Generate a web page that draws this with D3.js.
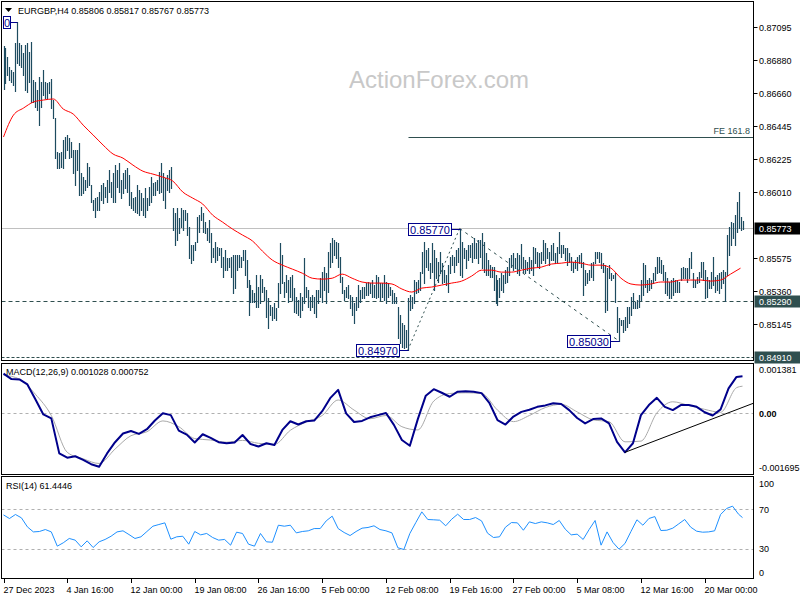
<!DOCTYPE html>
<html><head><meta charset="utf-8">
<script src="https://cdn.jsdelivr.net/npm/d3@7"></script>
<style>
body{margin:0;background:#fff}
svg{display:block}
text{font-family:"Liberation Sans",Arial,sans-serif;font-size:9px;fill:#000}
</style></head>
<body><svg id="c" width="800" height="600"></svg>
<script>
// ---------- DATA ----------
const title = "EURGBP,H4  0.85806 0.85817 0.85767 0.85773";
const highs = [
0.86971,0.86957,0.86898,0.86832,0.86812,0.86799,0.86990,0.87130,0.86990,0.86977,
0.86924,0.86977,0.86990,0.86931,0.86997,0.86747,0.86734,0.86681,0.86766,0.86734,
0.86812,0.86734,0.86727,0.86734,0.86753,0.86615,0.86496,0.86273,0.86266,0.86273,
0.86352,0.86372,0.86385,0.86365,0.86339,0.86286,0.86286,0.86286,0.86332,0.86134,
0.86108,0.86089,0.86200,0.86174,0.86056,0.85957,0.85970,0.85977,0.86010,0.86056,
0.86069,0.86043,0.86089,0.86154,0.86076,0.86134,0.86187,0.86154,0.86200,0.86089,
0.86134,0.86154,0.86167,0.86121,0.86010,0.85970,0.85977,0.86056,0.86023,0.86003,
0.85970,0.86036,0.85970,0.86043,0.86108,0.86069,0.86076,0.86089,0.86141,0.86200,
0.86134,0.86101,0.86121,0.86154,0.86174,0.85904,0.85871,0.85904,0.85838,0.85904,
0.85891,0.85891,0.85871,0.85779,0.85661,0.85661,0.85681,0.85845,0.85858,0.85911,
0.85871,0.85812,0.85772,0.85825,0.85740,0.85641,0.85681,0.85648,0.85641,0.85641,
0.85582,0.85628,0.85575,0.85575,0.85582,0.85595,0.85595,0.85595,0.85595,0.85582,
0.85628,0.85628,0.85562,0.85431,0.85398,0.85365,0.85345,0.85463,0.85385,0.85463,
0.85437,0.85385,0.85365,0.85312,0.85266,0.85253,0.85279,0.85246,0.85411,0.85674,
0.85595,0.85418,0.85463,0.85431,0.85450,0.85463,0.85378,0.85319,0.85299,0.85345,
0.85319,0.85575,0.85385,0.85365,0.85319,0.85332,0.85319,0.85365,0.85365,0.85443,
0.85483,0.85516,0.85476,0.85615,0.85674,0.85707,0.85694,0.85681,0.85674,0.85582,
0.85450,0.85365,0.85385,0.85398,0.85332,0.85319,0.85279,0.85319,0.85398,0.85365,
0.85385,0.85385,0.85411,0.85418,0.85411,0.85431,0.85398,0.85463,0.85450,0.85411,
0.85411,0.85463,0.85418,0.85411,0.85385,0.85365,0.85345,0.85319,0.85253,0.85200,
0.85147,0.85134,0.85102,0.85312,0.85332,0.85319,0.85431,0.85418,0.85431,0.85483,
0.85615,0.85681,0.85628,0.85641,0.85542,0.85674,0.85628,0.85575,0.85549,0.85615,
0.85542,0.85496,0.85463,0.85529,0.85582,0.85595,0.85582,0.85628,0.85641,0.85770,
0.85681,0.85641,0.85628,0.85661,0.85661,0.85674,0.85707,0.85674,0.85694,0.85694,
0.85740,0.85681,0.85608,0.85562,0.85529,0.85516,0.85516,0.85463,0.85431,0.85443,
0.85476,0.85463,0.85496,0.85516,0.85575,0.85595,0.85608,0.85575,0.85608,0.85595,
0.85668,0.85582,0.85562,0.85549,0.85582,0.85562,0.85648,0.85641,0.85615,0.85608,
0.85615,0.85694,0.85674,0.85641,0.85615,0.85661,0.85674,0.85608,0.85648,0.85747,
0.85661,0.85661,0.85641,0.85641,0.85608,0.85582,0.85549,0.85562,0.85582,0.85595,
0.85608,0.85549,0.85496,0.85476,0.85496,0.85542,0.85549,0.85615,0.85615,0.85615,
0.85608,0.85542,0.85529,0.85509,0.85529,0.85476,0.85463,0.85476,0.85253,0.85180,
0.85167,0.85167,0.85187,0.85253,0.85253,0.85319,0.85345,0.85286,0.85299,0.85332,
0.85431,0.85542,0.85529,0.85431,0.85443,0.85431,0.85476,0.85516,0.85582,0.85582,
0.85562,0.85529,0.85483,0.85443,0.85418,0.85431,0.85443,0.85431,0.85431,0.85418,
0.85509,0.85516,0.85509,0.85509,0.85575,0.85615,0.85476,0.85431,0.85450,0.85483,
0.85549,0.85549,0.85496,0.85450,0.85431,0.85483,0.85582,0.85450,0.85463,0.85476,
0.85483,0.85496,0.85483,0.85727,0.85779,0.85812,0.85806,0.85858,0.85944,0.86010,
0.85845,0.85817];
const lows = [
0.86688,0.86727,0.86779,0.86747,0.86734,0.86714,0.86674,0.86858,0.86845,0.86832,
0.86779,0.86681,0.86668,0.86734,0.86602,0.86602,0.86569,0.86549,0.86450,0.86569,
0.86648,0.86628,0.86628,0.86661,0.86562,0.86496,0.86233,0.86167,0.86167,0.86174,
0.86167,0.86233,0.86286,0.86233,0.86240,0.86134,0.86056,0.86154,0.85990,0.85990,
0.86003,0.86023,0.86043,0.86056,0.85944,0.85891,0.85845,0.85891,0.85891,0.85957,
0.85937,0.85977,0.85944,0.86010,0.85977,0.85944,0.85944,0.86043,0.86010,0.85970,
0.86003,0.86036,0.86010,0.85924,0.85904,0.85891,0.85878,0.85871,0.85858,0.85891,
0.85858,0.85845,0.85891,0.85924,0.85944,0.85990,0.85990,0.86023,0.86003,0.86010,
0.85957,0.85904,0.86023,0.86010,0.86036,0.85760,0.85661,0.85694,0.85740,0.85779,
0.85760,0.85825,0.85727,0.85575,0.85542,0.85562,0.85628,0.85681,0.85747,0.85825,
0.85747,0.85740,0.85694,0.85681,0.85549,0.85582,0.85549,0.85562,0.85595,0.85516,
0.85450,0.85496,0.85496,0.85516,0.85450,0.85345,0.85378,0.85496,0.85516,0.85516,
0.85562,0.85463,0.85385,0.85200,0.85286,0.85286,0.85286,0.85253,0.85253,0.85279,
0.85352,0.85299,0.85187,0.85114,0.85200,0.85167,0.85180,0.85167,0.85253,0.85345,
0.85411,0.85319,0.85352,0.85286,0.85319,0.85299,0.85220,0.85213,0.85200,0.85187,
0.85233,0.85279,0.85319,0.85253,0.85233,0.85253,0.85213,0.85187,0.85279,0.85319,
0.85286,0.85365,0.85279,0.85352,0.85516,0.85549,0.85595,0.85575,0.85516,0.85418,
0.85345,0.85299,0.85319,0.85312,0.85246,0.85200,0.85147,0.85233,0.85253,0.85286,
0.85312,0.85312,0.85332,0.85332,0.85345,0.85319,0.85319,0.85312,0.85319,0.85299,
0.85319,0.85299,0.85279,0.85319,0.85332,0.85279,0.85279,0.85279,0.85049,0.85016,
0.84990,0.84983,0.84990,0.84970,0.85233,0.85246,0.85279,0.85345,0.85352,0.85365,
0.85476,0.85411,0.85516,0.85496,0.85443,0.85483,0.85365,0.85443,0.85418,0.85476,
0.85411,0.85418,0.85398,0.85352,0.85476,0.85529,0.85483,0.85529,0.85549,0.85463,
0.85450,0.85575,0.85509,0.85562,0.85582,0.85549,0.85575,0.85575,0.85542,0.85582,
0.85509,0.85483,0.85463,0.85463,0.85450,0.85450,0.85365,0.85279,0.85266,0.85319,
0.85365,0.85352,0.85411,0.85418,0.85463,0.85516,0.85496,0.85509,0.85476,0.85463,
0.85509,0.85483,0.85476,0.85496,0.85476,0.85496,0.85463,0.85542,0.85516,0.85509,
0.85542,0.85562,0.85542,0.85575,0.85529,0.85562,0.85562,0.85542,0.85549,0.85608,
0.85582,0.85608,0.85562,0.85529,0.85549,0.85496,0.85483,0.85509,0.85496,0.85542,
0.85516,0.85332,0.85398,0.85411,0.85431,0.85450,0.85431,0.85542,0.85575,0.85549,
0.85509,0.85483,0.85220,0.85233,0.85443,0.85431,0.85443,0.85286,0.85089,0.85030,
0.85134,0.85089,0.85102,0.85121,0.85147,0.85200,0.85246,0.85246,0.85246,0.85253,
0.85299,0.85332,0.85385,0.85352,0.85365,0.85378,0.85411,0.85431,0.85476,0.85483,
0.85476,0.85431,0.85345,0.85332,0.85312,0.85312,0.85332,0.85352,0.85352,0.85352,
0.85431,0.85443,0.85443,0.85418,0.85443,0.85509,0.85385,0.85385,0.85411,0.85418,
0.85450,0.85431,0.85312,0.85319,0.85378,0.85378,0.85398,0.85352,0.85365,0.85345,
0.85378,0.85411,0.85290,0.85463,0.85595,0.85661,0.85707,0.85661,0.85747,0.85772,
0.85760,0.85767];
// moving average, one reading every 5 bars
const maStep = 5;
const maValues = [
0.86372,0.86516,0.86562,0.86602,0.86615,0.86622,0.86556,0.86523,0.86450,0.86385,
0.86319,0.86260,0.86233,0.86187,0.86147,0.86128,0.86108,0.86082,0.86010,0.85970,
0.85931,0.85858,0.85812,0.85766,0.85727,0.85688,0.85621,0.85562,0.85529,0.85503,
0.85476,0.85443,0.85437,0.85443,0.85470,0.85443,0.85418,0.85411,0.85411,0.85405,
0.85372,0.85352,0.85378,0.85385,0.85398,0.85411,0.85424,0.85457,0.85496,0.85496,
0.85483,0.85483,0.85496,0.85509,0.85516,0.85536,0.85542,0.85549,0.85542,0.85529,
0.85529,0.85509,0.85443,0.85405,0.85398,0.85405,0.85418,0.85418,0.85431,0.85431,
0.85431,0.85424,0.85431,0.85470,0.85509];
// MACD main, one reading every 4 bars
const macdStep = 4;
const macdMain = [
0.00110,0.00095,0.00094,0.00080,0.00039,-0.00003,-0.00014,-0.00111,-0.00123,-0.00119,
-0.00129,-0.00141,-0.00148,-0.00111,-0.00080,-0.00056,-0.00049,-0.00057,-0.00044,-0.00020,
0.00000,-0.00005,-0.00048,-0.00059,-0.00081,-0.00058,-0.00068,-0.00080,-0.00083,-0.00081,
-0.00060,-0.00085,-0.00092,-0.00083,-0.00088,-0.00046,-0.00022,-0.00031,-0.00022,-0.00020,
0.00006,0.00042,0.00065,0.00000,-0.00024,-0.00021,-0.00011,-0.00005,0.00001,-0.00032,
-0.00074,-0.00090,-0.00016,0.00049,0.00067,0.00057,0.00046,0.00060,0.00061,0.00060,
0.00056,0.00028,-0.00019,-0.00031,-0.00009,0.00004,0.00010,0.00018,0.00022,0.00028,
0.00026,0.00009,-0.00013,-0.00028,-0.00016,-0.00014,-0.00028,-0.00079,-0.00108,-0.00083,
-0.00005,0.00023,0.00043,0.00018,0.00009,0.00023,0.00023,0.00018,0.00003,-0.00006,
0.00011,0.00069,0.00101];
const macdNow = 0.001028;
// MACD signal, one reading every 8 bars
const signalStep = 8;
const macdSignal = [
0.00106,0.00095,0.00053,-0.00006,-0.00108,-0.00126,-0.00139,-0.00099,-0.00062,-0.00051,
-0.00021,-0.00037,-0.00070,-0.00074,-0.00080,-0.00075,-0.00083,-0.00086,-0.00047,-0.00024,
-0.00006,0.00037,0.00009,-0.00015,-0.00006,-0.00037,-0.00046,0.00034,0.00055,0.00057,
0.00055,0.00009,-0.00023,-0.00006,0.00016,0.00025,0.00004,-0.00018,-0.00023,-0.00079,
-0.00077,0.00001,0.00032,0.00022,0.00011,0.00003,0.00071];
const signalNow = 0.000752;
const macdMax = 0.001381, macdMin = -0.001695;
const macdTrend = [[312,-0.00108],[376.5,0.00028]];
// RSI, one reading every 3 bars
const rsiStep = 3;
const rsiValues = [
64.2,60.5,64.6,61.2,52.0,46.9,47.3,49.3,46.9,32.4,
35.8,40.2,38.5,31.7,37.8,31.0,36.8,39.2,42.5,46.9,
48.0,44.2,40.2,41.9,47.3,52.7,54.4,56.1,39.5,41.9,
42.5,34.4,47.3,43.9,45.3,41.2,38.5,39.2,33.4,46.6,
45.3,34.4,32.4,45.3,36.8,36.4,53.7,52.7,53.7,45.9,
47.3,48.0,50.3,50.3,58.1,62.9,50.3,46.3,43.2,47.3,
50.7,51.4,53.1,49.3,48.0,45.9,30.7,29.0,45.3,56.4,
67.3,59.5,59.2,58.8,53.1,59.8,64.9,59.5,59.5,61.5,
58.1,45.6,41.2,41.9,51.7,56.4,56.1,48.6,57.1,55.4,
57.1,56.1,54.4,58.5,49.7,43.9,44.6,39.2,49.3,58.5,
33.4,46.9,36.1,29.3,35.1,47.3,59.2,53.7,60.5,62.5,
48.3,48.6,50.7,55.1,59.5,51.7,47.6,46.6,46.9,48.0,
64.6,70.7,73.1,64.9];
const rsiNow = 61.4446;
const rsiLevels = [70, 30];
const rsiAxisLabels = [100, 70, 30, 0];
const priceTicks = [0.87095,0.86880,0.86660,0.86445,0.86225,0.86010,0.85575,0.85360,0.85145];
const dateStep = 32;
const dateLabels = ["27 Dec 2023","4 Jan 16:00","12 Jan 00:00","19 Jan 08:00","26 Jan 16:00","5 Feb 00:00",
  "12 Feb 08:00","19 Feb 16:00","27 Feb 00:00","5 Mar 08:00","12 Mar 16:00","20 Mar 00:00"];
const lastPrice = 0.85773, supportLevel = 0.85290, bottomLevel = 0.84910;
const feLevel = 0.86372, feStartBar = 203, feText = "FE 161.8";
// swing labels (the first one is cut by the chart's left edge, only its last digit shows)
const swingLabels = [{bar:7,v:0.87130,shown:"0"},{bar:203,v:0.84970,shown:"0.84970"},
  {bar:229,v:0.85770,shown:"0.85770"},{bar:309,v:0.85030,shown:"0.85030"}];
const zigUp = [[203,0.84970],[229,0.85770]];
const zigDown = [[229,0.85770],[309,0.85030]];

// ---------- SCALES ----------
const svg = d3.select("#c");
const L = 1.5, R = 753.5;
const x = d3.scaleLinear().domain([0, highs.length - 1]).range([3.5, 742.5]);
const y = d3.scaleLinear().domain([0.84905, 0.87260]).range([360, 2]);
const ym = d3.scaleLinear().domain([macdMin, macdMax]).range([474.5, 363.5]);
const yr = d3.scaleLinear().domain([0, 100]).range([578, 479.7]);
const cx = i => Math.round(x(i)) + 0.5;

const defs = svg.append("defs");
[["cm",1,360],["cd",363,474],["cr",476,578]].forEach(([id,t,b]) =>
  defs.append("clipPath").attr("id", id).append("rect").attr("x", L).attr("y", t).attr("width", R - L).attr("height", b - t));

// watermark
svg.append("text").attr("x", 439).attr("y", 88).attr("text-anchor", "middle")
  .style("font-size", "24px").style("fill", "#c8c8c8").text("ActionForex.com");

const gm = svg.append("g").attr("clip-path", "url(#cm)");

// horizontal levels
gm.append("line").attr("x1", L).attr("x2", R).attr("y1", Math.round(y(lastPrice)) + 0.5).attr("y2", Math.round(y(lastPrice)) + 0.5)
  .attr("stroke", "#c0c0c0");
gm.append("line").attr("x1", L).attr("x2", R).attr("y1", Math.round(y(supportLevel)) + 0.5).attr("y2", Math.round(y(supportLevel)) + 0.5)
  .attr("stroke", "#2f4f4f").attr("stroke-dasharray", "4,3");
gm.append("line").attr("x1", L).attr("x2", R).attr("y1", Math.round(y(bottomLevel)) - 1.5).attr("y2", Math.round(y(bottomLevel)) - 1.5)
  .attr("stroke", "#2f4f4f").attr("stroke-dasharray", "3,2");
gm.append("line").attr("x1", cx(feStartBar)).attr("x2", R).attr("y1", Math.round(y(feLevel)) + 0.5).attr("y2", Math.round(y(feLevel)) + 0.5)
  .attr("stroke", "#2f4f4f");
gm.append("text").attr("x", 750).attr("y", Math.round(y(feLevel)) - 3).attr("text-anchor", "end")
  .style("fill", "#2f4f4f").text(feText);

// zigzag
const zl = d3.line().x(d => x(d[0])).y(d => y(d[1]));
gm.append("path").attr("d", zl(zigUp)).attr("fill", "none").attr("stroke", "#2f4f4f").attr("stroke-dasharray", "2,3");
gm.append("path").attr("d", zl(zigDown)).attr("fill", "none").attr("stroke", "#2f4f4f").attr("stroke-dasharray", "3,4");

// bars
gm.append("g").selectAll("line").data(highs).join("line")
  .attr("x1", (d, i) => cx(i)).attr("x2", (d, i) => cx(i))
  .attr("y1", d => Math.round(y(d))).attr("y2", (d, i) => Math.round(y(lows[i])) + 1)
  .attr("stroke", "#1d4b5f").attr("stroke-width", 1.2);

// MA
const maPts = maValues.map((v, k) => [k * maStep, v]);
gm.append("path").attr("d", d3.line().x(d => x(d[0])).y(d => y(d[1])).curve(d3.curveMonotoneX)(maPts))
  .attr("fill", "none").attr("stroke", "#ff0000").attr("stroke-width", 1);

// swing labels
swingLabels.forEach(s => {
  const bx = cx(s.bar), by = Math.round(y(s.v)) + 0.5;
  const gap = 10;
  const w = s.shown.length > 1 ? 43 : 7;
  const bl = Math.max(bx - gap - w, L + 1);
  gm.append("line").attr("x1", bl + w).attr("x2", bx).attr("y1", by).attr("y2", by).attr("stroke", "#00008b");
  gm.append("rect").attr("x", Math.round(bl) + 0.5).attr("y", by - 6).attr("width", w).attr("height", 12)
    .attr("fill", "#fff").attr("stroke", "#00008b");
  gm.append("text").attr("x", Math.round(bl) + 0.5 + w / 2).attr("y", by + 4.5).attr("text-anchor", "middle")
    .style("font-size", "11px").style("fill", "#00008b").text(s.shown);
});

// title
svg.append("path").attr("d", "M5,8 L12,8 L8.5,12 Z").attr("fill", "#000");
svg.append("text").attr("x", 18).attr("y", 14).text(title);

// ---------- MACD ----------
const gd = svg.append("g").attr("clip-path", "url(#cd)");
gd.append("line").attr("x1", L).attr("x2", R).attr("y1", Math.round(ym(0)) + 0.5).attr("y2", Math.round(ym(0)) + 0.5)
  .attr("stroke", "#b0b0b0").attr("stroke-dasharray", "3,3");
const sigPts = macdSignal.map((v, k) => [k * signalStep, v]).concat([[highs.length - 1, signalNow]]);
const macdPts = macdMain.map((v, k) => [k * macdStep, v]).concat([[highs.length - 1, macdNow]]);
gd.append("path").attr("d", d3.line().x(d => x(d[0])).y(d => ym(d[1])).curve(d3.curveMonotoneX)(sigPts))
  .attr("fill", "none").attr("stroke", "#a9a9a9").attr("stroke-width", 1);
gd.append("path").attr("d", d3.line().x(d => x(d[0])).y(d => ym(d[1]))(macdPts))
  .attr("fill", "none").attr("stroke", "#00008b").attr("stroke-width", 2).attr("stroke-linejoin", "round");
gd.append("path").attr("d", d3.line().x(d => x(d[0])).y(d => ym(d[1]))(macdTrend)).attr("stroke", "#000").attr("stroke-width", 1);
svg.append("text").attr("x", 6).attr("y", 375).text("MACD(12,26,9) " + macdNow.toFixed(6) + " " + signalNow.toFixed(6));

// ---------- RSI ----------
const gr = svg.append("g").attr("clip-path", "url(#cr)");
rsiLevels.forEach(l => gr.append("line").attr("x1", L).attr("x2", R)
  .attr("y1", Math.round(yr(l)) + 0.5).attr("y2", Math.round(yr(l)) + 0.5)
  .attr("stroke", "#b0b0b0").attr("stroke-dasharray", "3,3"));
const rsiPts = rsiValues.map((v, k) => [k * rsiStep, v]).concat([[highs.length - 1, rsiNow]]);
gr.append("path").attr("d", d3.line().x(d => x(d[0])).y(d => yr(d[1]))(rsiPts))
  .attr("fill", "none").attr("stroke", "#1e90ff").attr("stroke-width", 1);
svg.append("text").attr("x", 6).attr("y", 489).text("RSI(14) " + rsiNow.toFixed(4));

// ---------- FRAMES ----------
[[1.5,360.5],[363.5,474.5],[476.5,578.5]].forEach(([t,b]) =>
  svg.append("rect").attr("x", L).attr("y", t).attr("width", R - L).attr("height", b - t)
    .attr("fill", "none").attr("stroke", "#000"));

// ---------- PRICE AXIS ----------
const ax = svg.append("g");
priceTicks.forEach(p => {
  const py = Math.round(y(p)) + 0.5;
  ax.append("line").attr("x1", R).attr("x2", R + 4).attr("y1", py).attr("y2", py).attr("stroke", "#000");
  ax.append("text").attr("x", 759).attr("y", py + 3.5).text(p.toFixed(5));
});
[[lastPrice, "#000"], [supportLevel, "#2f4f4f"], [bottomLevel, "#2f4f4f"]].forEach(([p, c]) => {
  let py = Math.round(y(p)) + 0.5;
  if (p === bottomLevel) py -= 2;
  ax.append("rect").attr("x", R + 1).attr("y", py - 6).attr("width", 46).attr("height", 12).attr("fill", c);
  ax.append("text").attr("x", 759).attr("y", py + 3.5).style("fill", "#fff").text(p.toFixed(5));
});

// MACD axis
[[macdMax, ym(macdMax) + 6], [0, ym(0)], [macdMin, ym(macdMin) - 7]].forEach(([v, py]) => {
  const t = v === 0 ? "0.00" : v.toFixed(6);
  ax.append("text").attr("x", 759).attr("y", py + 3.5).style("font-weight", v === 0 ? "bold" : "normal").text(t);
});
// RSI axis
rsiAxisLabels.forEach(v => {
  let py = yr(v);
  if (v === 100) py = 483; if (v === 0) py = 572;
  ax.append("text").attr("x", 759).attr("y", py + 3.5).text(String(v));
});

// ---------- TIME AXIS ----------
dateLabels.forEach((t, k) => {
  const tx = cx(k * dateStep);
  ax.append("line").attr("x1", tx).attr("x2", tx).attr("y1", 579).attr("y2", 583).attr("stroke", "#000");
  ax.append("text").attr("x", tx - 1).attr("y", 593).text(t);
});
</script></body></html>
